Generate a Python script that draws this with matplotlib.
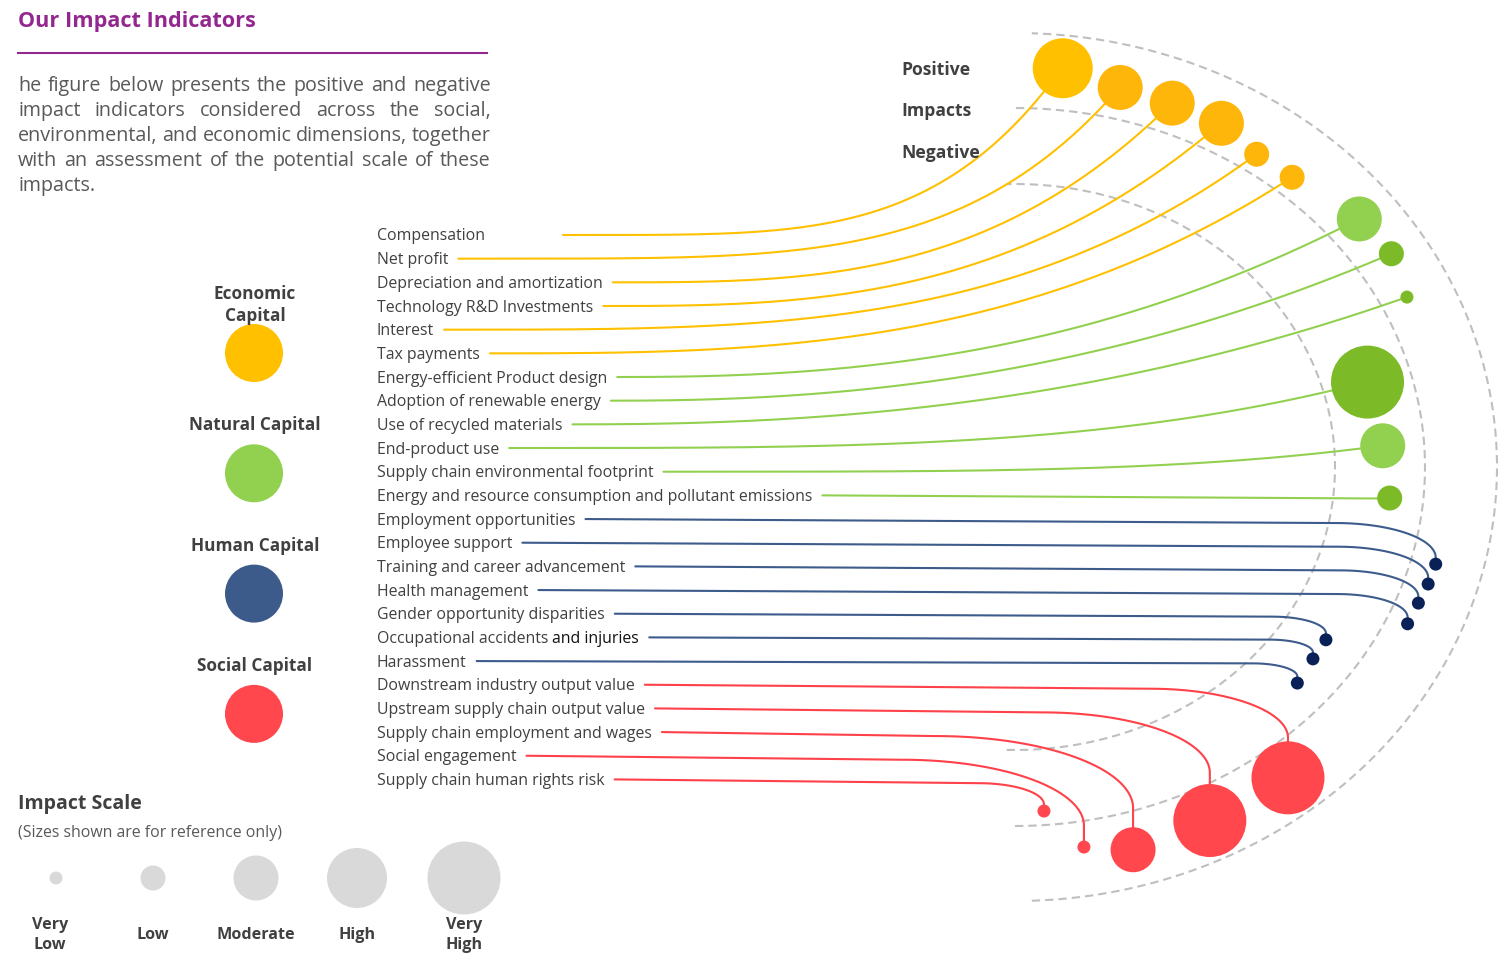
import numpy as np
import matplotlib
matplotlib.use("Agg")
import matplotlib.pyplot as plt
from matplotlib.patches import Circle

plt.rcParams['font.family'] = ['Open Sans', 'DejaVu Sans']

# ---------------- data ----------------
INDICATORS = [
    "Compensation", "Net profit", "Depreciation and amortization",
    "Technology R&D Investments", "Interest", "Tax payments",
    "Energy-efficient Product design", "Adoption of renewable energy",
    "Use of recycled materials", "End-product use",
    "Supply chain environmental footprint",
    "Energy and resource consumption and pollutant emissions",
    "Employment opportunities", "Employee support",
    "Training and career advancement", "Health management",
    "Gender opportunity disparities", "Occupational accidents and injuries",
    "Harassment",
    "Downstream industry output value", "Upstream supply chain output value",
    "Supply chain employment and wages", "Social engagement",
    "Supply chain human rights risk",
]
CAPITALS = ["Economic\nCapital", "Natural Capital", "Human Capital", "Social Capital"]
CAPITAL_OF = [0] * 6 + [1] * 6 + [2] * 7 + [3] * 5
IMPACT = (["Positive"] * 9 + ["Negative"] * 3 + ["Positive"] * 4 + ["Negative"] * 3
          + ["Positive"] * 4 + ["Negative"])
SCALE = [4, 3, 3, 3, 2, 2,
         3, 2, 1, 5, 3, 2,
         1, 1, 1, 1, 1, 1, 1,
         5, 5, 3, 1, 1]
SCALE_NAMES = ["Very\nLow", "Low", "Moderate", "High", "Very\nHigh"]

# ---------------- styling / layout ----------------
CAPITAL_COLORS = ["#FFC000", "#92D050", "#3C5A8A", "#FF474D"]
LINE_COLORS = ["#FFC000", "#92D050", "#3D5B8B", "#FF4149"]
BUBBLE_COLORS = (["#FFC000"] + ["#FFB60A"] * 5
                 + ["#92D050", "#7CBA28", "#7CBA28", "#7CBA28", "#92D050", "#7CBA28"]
                 + ["#0A2158"] * 7 + ["#FF474D"] * 5)
# placement of each bubble inside its band: angle (deg) and elliptical radius
ANGLES = [83.9, 76.1, 68.9, 61.8, 55.4, 49.5, 38.9, 32.4, 25.9, 15.1, 3.7, -5.3,
          -14.5, -17.6, -20.7, -24.1, -31.9, -35.8, -40.6,
          -51.9, -63.8, -74.6, -80.8, -85.7]
RADIAL = [401, 391, 390, 390, 380, 381, 395, 398, 389, 326, 329, 336,
          388, 387, 385, 384, 327, 328, 332,
          395, 394, 397, 385, 345]
SCALE_RADIUS = [6.5, 12.5, 22.5, 30, 36.5]
CX, CY, ASPECT = 1015, 467, 1.12
ARCS = [(482, 434, 88), (410, 359, 90), (320, 283, 91.5)]

TXT = "#404040"
PURPLE = "#93278F"

fig = plt.figure(figsize=(15, 9.64), dpi=100)
ax = fig.add_axes([0, 0, 1, 1])
ax.set_xlim(0, 1500)
ax.set_ylim(964, 0)
ax.axis('off')
renderer = fig.canvas.get_renderer()


def text_width(s, size, weight='normal'):
    t = ax.text(0, 0, s, fontsize=size, fontweight=weight)
    w = t.get_window_extent(renderer).width
    t.remove()
    return w


def fit_size(s, target, weight='normal'):
    return 12 * target / text_width(s, 12, weight)


# ---- header ----
ax.text(18, 21, "Our Impact Indicators", fontsize=fit_size("Our Impact Indicators", 237, 'bold'),
        fontweight='bold', color=PURPLE, va='center', ha='left')
ax.plot([17, 488], [53, 53], color=PURPLE, lw=1.5, solid_capstyle='butt')

para = ["he figure below presents the positive and negative",
        "impact indicators considered across the social,",
        "environmental, and economic dimensions, together",
        "with an assessment of the potential scale of these",
        "impacts."]
psize = fit_size("impacts.", 77)
for i, line in enumerate(para):
    y = 86 + 25 * i
    words = line.split()
    if i == len(para) - 1:
        ax.text(18, y, line, fontsize=psize, color="#595959", va='center', ha='left')
        continue
    widths = [text_width(w, psize) for w in words]
    gap = (491 - 18 - sum(widths)) / (len(words) - 1)
    x = 18
    for w, wd in zip(words, widths):
        ax.text(x, y, w, fontsize=psize, color="#595959", va='center', ha='left')
        x += wd + gap

for lbl, y in zip(["Positive", "Impacts", "Negative"], [70, 111, 153]):
    ax.text(901, y, lbl, fontsize=fit_size("Positive", 69, 'bold'), fontweight='bold',
            color=TXT, va='center', ha='left')

# ---- dashed arcs ----
for rx, ry, amax in ARCS:
    t = np.radians(np.linspace(-amax, amax, 400))
    ax.plot(CX + rx * np.cos(t), CY - ry * np.sin(t), color="#BFBFBF", lw=1.5,
            linestyle=(0, (4, 2.4)), zorder=1)


# ---- connectors ----
def power_curve(x0, y0, xc, yc, r, a_deg):
    a = np.radians(a_deg)
    ex, ey = xc - r * np.cos(a), yc + r * np.sin(a)
    dx, dy = ex - x0, y0 - ey
    s = np.linspace(0, 1, 300)
    if dy <= 0.5:
        xs, ys = x0 + dx * s, y0 + (ey - y0) * s
    else:
        p = max(1.3, np.tan(a) * dx / dy)
        xs, ys = x0 + dx * s, y0 - dy * s ** p
    return np.append(xs, xc), np.append(ys, yc)


def elbow_curve(x0, y0, xc, yc, r):
    x3, y3 = xc, yc - r
    dy = y3 - y0
    dr = min(4, dy * 0.15)
    ya = y0 + dr
    h = min(dy - dr, 15 + 0.6 * dy)
    w = 2.6 * h + 10
    phi = np.linspace(0, np.pi / 2, 100)
    xs = np.concatenate([[x0], x3 - w + w * np.sin(phi), [x3, xc]])
    ys = np.concatenate([[y0], ya + h - h * np.cos(phi), [y3, yc]])
    return xs, ys


lsize = fit_size(INDICATORS[11], 435)
space_w = text_width("x x", lsize) - text_width("xx", lsize)
line_gap = {"Compensation": 78}

for i, name in enumerate(INDICATORS):
    y = 235 + i * 23.67
    ty = y + 1.5
    cap = CAPITAL_OF[i]
    if name == "Occupational accidents and injuries":
        part = "Occupational accidents"
        ax.text(377, ty, part, fontsize=lsize, color=TXT, va='center', ha='left')
        ax.text(377 + text_width(part, lsize) + space_w, ty, "and injuries", fontsize=lsize,
                color="#111111", va='center', ha='left')
    else:
        ax.text(377, ty, name, fontsize=lsize, color=TXT, va='center', ha='left')
    x0 = 377 + text_width(name, lsize) + line_gap.get(name, 10)

    k = RADIAL[i]
    t = np.radians(ANGLES[i])
    xc = CX + ASPECT * k * np.cos(t)
    yc = CY - k * np.sin(t)
    r = SCALE_RADIUS[SCALE[i] - 1]

    if cap < 2:
        xs, ys = power_curve(x0, y, xc, yc, r, max(1.0, 0.55 * ANGLES[i] + 5))
    else:
        xs, ys = elbow_curve(x0, y, xc, yc, r)
    ax.plot(xs, ys, color=LINE_COLORS[cap], lw=1.5, zorder=2, solid_capstyle='round')
    ax.add_patch(Circle((xc, yc), r, color=BUBBLE_COLORS[i], lw=0, zorder=3))

# ---- capital legend ----
csize = fit_size("Natural Capital", 132, 'bold')
for j, cname in enumerate(CAPITALS):
    cy = 353 + 120.3 * j
    ax.text(255, cy - 48, cname, fontsize=csize, fontweight='bold', color=TXT,
            ha='center', va='center', linespacing=1.3, zorder=4)
    ax.add_patch(Circle((254, cy), 29, color=CAPITAL_COLORS[j], lw=0, zorder=3))

# ---- impact scale legend ----
ax.text(18, 804, "Impact Scale", fontsize=fit_size("Impact Scale", 123, 'bold'),
        fontweight='bold', color=TXT, va='center', ha='left')
ax.text(18, 833, "(Sizes shown are for reference only)",
        fontsize=fit_size("(Sizes shown are for reference only)", 262),
        color="#595959", va='center', ha='left')
ssize = fit_size("Moderate", 78, 'bold')
for j, (sname, rad) in enumerate(zip(SCALE_NAMES, SCALE_RADIUS)):
    sx = [56, 153, 256, 357, 464][j]
    ax.add_patch(Circle((sx, 878), rad, color="#D9D9D9", lw=0))
    ax.text(sx - 6 if j == 0 else sx, 935, sname, fontsize=ssize, fontweight='bold',
            color=TXT, ha='center', va='center', linespacing=1.35)

fig.savefig("out.png", dpi=100, facecolor='white')
